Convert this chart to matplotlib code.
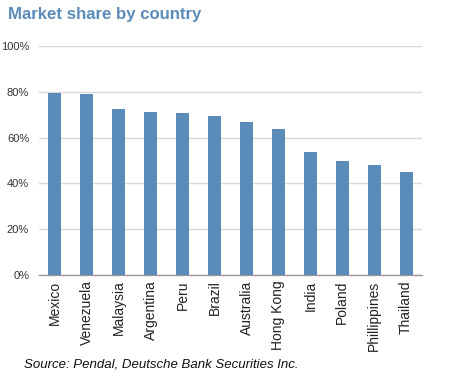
import matplotlib.pyplot as plt
import numpy as np

plt.rcParams['font.family'] = ['Liberation Sans', 'DejaVu Sans']

countries = ['Mexico', 'Venezuela', 'Malaysia', 'Argentina', 'Peru', 'Brazil',
             'Australia', 'Hong Kong', 'India', 'Poland', 'Phillippines', 'Thailand']
share = [79.6, 79.0, 72.5, 71.2, 70.7, 69.4, 66.8, 63.8, 53.7, 49.8, 48.0, 45.0]

bar_color = '#5b8bb8'

fig = plt.figure(figsize=(4.52, 3.84), dpi=100)
ax = fig.add_axes([0.086, 0.284, 0.848, 0.596])

x = np.arange(len(countries))
ax.bar(x, share, width=0.41, color=bar_color, zorder=3)

ax.set_ylim(0, 100)
ax.set_xlim(-0.5, len(countries) - 0.5)
ax.set_yticks(np.arange(0, 101, 20))
ax.set_yticklabels([f'{v}%' for v in range(0, 101, 20)], fontsize=8, color='#333333')
ax.set_xticks(x)
ax.set_xticklabels(countries, rotation=90, fontsize=10, color='#222222')
ax.tick_params(axis='both', length=0, pad=4)
ax.tick_params(axis='y', pad=7)

ax.yaxis.grid(True, color='#d9d9d9', linewidth=1, zorder=0)
for side in ['top', 'right', 'left']:
    ax.spines[side].set_visible(False)
ax.spines['bottom'].set_color('#999999')
ax.spines['bottom'].set_linewidth(1)

fig.text(0.018, 0.963, 'Market share by country', fontsize=12.1, fontweight='bold',
         color=bar_color, va='center', ha='left')
fig.text(0.053, 0.052, 'Source: Pendal, Deutsche Bank Securities Inc.', fontsize=9.5,
         style='italic', color='#111111', va='center', ha='left')

fig.savefig('out.png', dpi=100)
